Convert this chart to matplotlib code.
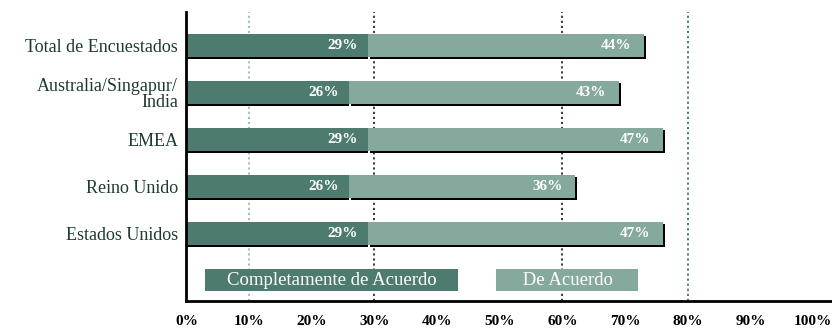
import matplotlib.pyplot as plt
import matplotlib.patheffects as pe

categories = ["Total de Encuestados", "Australia/Singapur/\nIndia", "EMEA",
              "Reino Unido", "Estados Unidos"]
completamente = [29, 26, 29, 26, 29]
de_acuerdo = [44, 43, 47, 36, 47]
series_names = ["Completamente de Acuerdo", "De Acuerdo"]
tick_values = [0, 10, 20, 30, 40, 50, 60, 70, 80, 90, 100]

dark = "#4e7b70"
light = "#86a99e"

plt.rcParams["font.family"] = ["Liberation Serif", "DejaVu Serif"]

fig = plt.figure(figsize=(8.32, 3.35), dpi=100)
ax = fig.add_axes([0.224, 0.101, 0.776, 0.862])

# dotted reference lines
for xv, col in [(10, "#9dbab1"), (30, "#1f2f2a"), (60, "#1f2f2a"), (80, "#3d7567")]:
    ax.axvline(xv, color=col, ls=(0, (1.2, 1.6)), lw=1.3, zorder=1)

ypos = list(range(len(categories)))
b1 = ax.barh(ypos, completamente, height=0.49, color=dark, zorder=3)
b2 = ax.barh(ypos, de_acuerdo, left=completamente, height=0.49, color=light, zorder=2)
for bar in b2:
    bar.set_path_effects([pe.SimplePatchShadow(offset=(1.5, -1.5), shadow_rgbFace="black",
                                               alpha=1.0), pe.Normal()])
for bar in b1:
    bar.set_path_effects([pe.SimplePatchShadow(offset=(0, -1.5), shadow_rgbFace="black",
                                               alpha=1.0), pe.Normal()])

for y, c, d in zip(ypos, completamente, de_acuerdo):
    ax.text(c - 1.7, y, f"{c}%", ha="right", va="center", color="white",
            fontsize=11, fontweight="bold", zorder=4)
    ax.text(c + d - 2.0, y, f"{d}%", ha="right", va="center", color="white",
            fontsize=11, fontweight="bold", zorder=4)

# legend boxes along the bottom row
ax.text(3.4, 5, "    " + series_names[0] + "    ", ha="left", va="center",
        color="white", fontsize=13.5, zorder=5,
        bbox=dict(boxstyle="square,pad=0.12", fc=dark, ec="none"))
ax.text(49.8, 5, "     " + series_names[1] + "     ", ha="left", va="center",
        color="white", fontsize=13.5, zorder=5,
        bbox=dict(boxstyle="square,pad=0.12", fc=light, ec="none"))

ax.set_xlim(0, 103)
ax.set_ylim(5.45, -0.71)
ax.set_yticks(ypos)
ax.set_yticklabels(categories, fontsize=13, color="#1e3a33", linespacing=0.95)
ax.set_xticks(tick_values)
ax.set_xticklabels([f"{t}%" for t in tick_values], fontsize=11, fontweight="bold")
ax.tick_params(length=0)
ax.tick_params(axis="y", pad=6)
ax.tick_params(axis="x", pad=10)
for side in ["top", "right"]:
    ax.spines[side].set_visible(False)
for side in ["left", "bottom"]:
    ax.spines[side].set_linewidth(2)
    ax.spines[side].set_zorder(6)

fig.savefig("out.png", dpi=100)
